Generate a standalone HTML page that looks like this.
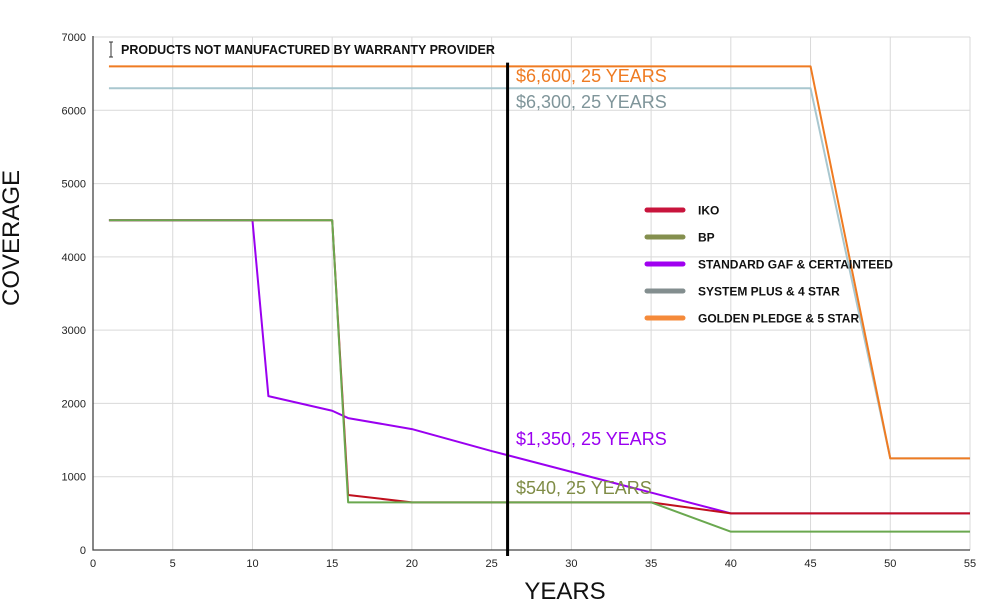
<!DOCTYPE html>
<html><head><meta charset="utf-8"><style>
body{margin:0;background:#fff;font-family:"Liberation Sans",sans-serif}
svg text{font-family:"Liberation Sans",sans-serif}
</style></head><body>
<svg width="1001" height="600">
<g id="grid"></g><g id="series"></g><g id="overlay"></g>
</svg>
<script>
const xTicks=[0,5,10,15,20,25,30,35,40,45,50,55];
const yTicks=[0,1000,2000,3000,4000,5000,6000,7000];
const ikoX=[1,15,16,20,35,40,55], ikoY=[4500,4500,750,650,650,500,500];
const bpX=[1,15,16,35,40,55], bpY=[4500,4500,650,650,250,250];
const stdX=[1,10,11,15,16,20,25,40,55], stdY=[4500,4500,2100,1900,1800,1650,1350,500,500];
const sysX=[1,45,50,55], sysY=[6300,6300,1250,1250];
const goldX=[1,45,50,55], goldY=[6600,6600,1250,1250];
const markerYear=26;
const NS="http://www.w3.org/2000/svg";
const xs=v=>93+v*(877/55), ys=v=>550-v*(513/7000);
function mk(p,t,a){const e=document.createElementNS(NS,t);for(const k in a)e.setAttribute(k,a[k]);p.appendChild(e);return e;}
const g=document.getElementById('grid'),s=document.getElementById('series'),o=document.getElementById('overlay');
xTicks.forEach(v=>{
 const l=mk(g,'line',{x1:xs(v),x2:xs(v),y1:ys(7000),y2:550,stroke:'#d9d9d9','stroke-width':1});
 
 
 const t=mk(g,'text',{x:xs(v),y:567,'text-anchor':'middle','font-size':11,fill:'#222'});t.textContent=v;
 
 
});
yTicks.forEach(v=>{
 const l=mk(g,'line',{x1:93,x2:970,y1:ys(v),y2:ys(v),stroke:'#d9d9d9','stroke-width':1});
 
 
 const t=mk(g,'text',{x:86,y:ys(v)+4,'text-anchor':'end','font-size':11,fill:'#222'});t.textContent=v;
 
 
});
const ax=mk(g,'path',{d:'M93,36V550H970',fill:'none',stroke:'#444','stroke-width':1.3});


function line(X,Y,c,w,n){const p=mk(s,'polyline',{points:X.map((x,i)=>xs(x)+','+ys(Y[i])).join(' '),fill:'none',stroke:c,'stroke-width':w,'stroke-linejoin':'round'});
 
 }
line(sysX,sysY,'#a9c7cf',2,'series-system-plus');
line(goldX,goldY,'#ef7b22',2,'series-golden-pledge');
line(stdX,stdY,'#9a00f0',2,'series-standard-gaf');
line(ikoX,ikoY,'#c0101e',2,'series-iko');
line(bpX,bpY,'#6aa84f',2,'series-bp');
const vl=mk(o,'line',{x1:xs(markerYear),x2:xs(markerYear),y1:ys(6650),y2:556,stroke:'#000','stroke-width':3});


const labels=[['$6,600, 25 YEARS',82,'#ef7b22'],['$6,300, 25 YEARS',108,'#7f959a'],['$1,350, 25 YEARS',445,'#9a00f0'],['$540, 25 YEARS',494,'#7f8c46']];
labels.forEach(a=>{const t=mk(o,'text',{x:516,y:a[1],'font-size':18,fill:a[2]});t.textContent=a[0];
 
 });
const leg=[['IKO','#c8143c'],['BP','#848f4e'],['STANDARD GAF & CERTAINTEED','#a000f0'],['SYSTEM PLUS & 4 STAR','#838e8f'],['GOLDEN PLEDGE & 5 STAR','#f58a3a']];
leg.forEach((a,i)=>{const y=210+i*27;
 const l=mk(o,'line',{x1:647,x2:683,y1:y,y2:y,stroke:a[1],'stroke-width':5,'stroke-linecap':'round'});
 
 
 const t=mk(o,'text',{x:698,y:y+4.5,'font-size':12,'font-weight':'bold',fill:'#111'});t.textContent=a[0];
 
 });
const n=mk(o,'text',{x:121,y:54,'font-size':12.5,'font-weight':'bold',fill:'#111'});n.textContent='PRODUCTS NOT MANUFACTURED BY WARRANTY PROVIDER';


const ni=mk(o,'path',{d:'M111,42V57M109,42H113M109,57H113',stroke:'#333','stroke-width':1,fill:'none'});


const xt=mk(o,'text',{x:565,y:599,'text-anchor':'middle','font-size':24,fill:'#111'});xt.textContent='YEARS';


const yt=mk(o,'text',{x:0,y:0,'text-anchor':'middle','font-size':24,fill:'#111',transform:'translate(19,238) rotate(-90)'});yt.textContent='COVERAGE';


</script>
</body></html>
